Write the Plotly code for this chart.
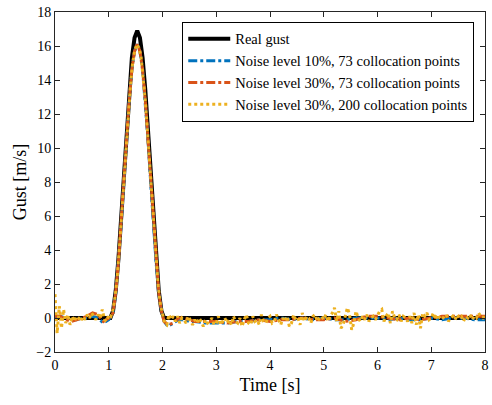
import plotly.graph_objects as go

# ---- data ----
real_time = [0.0, 1.03, 1.08, 1.13, 1.18, 1.23, 1.28, 1.33, 1.38, 1.43, 1.48, 1.53,
             1.58, 1.63, 1.68, 1.73, 1.78, 1.83, 1.88, 1.93, 1.98, 2.03, 8.0]
real_gust = [0.0, 0.0, 0.41, 1.61, 3.48, 5.84, 8.45, 11.06, 13.42, 15.29, 16.49, 16.9,
             16.49, 15.29, 13.42, 11.06, 8.45, 5.84, 3.48, 1.61, 0.41, 0.0, 0.0]

est_time = [0.0, 0.1, 0.2, 0.3, 0.4, 0.5, 0.6, 0.7, 0.8, 0.9, 1.0,
            1.08, 1.13, 1.18, 1.23, 1.28, 1.33, 1.38, 1.43, 1.48, 1.53,
            1.58, 1.63, 1.68, 1.73, 1.78, 1.83, 1.88, 1.93, 1.98,
            2.03, 2.1, 2.2, 2.3, 2.4, 2.5, 2.6, 2.8, 3.0, 3.2, 3.4, 3.6, 3.8,
            4.0, 4.2, 4.4, 4.6, 4.8, 5.0, 5.2, 5.4, 5.6, 5.8, 6.0, 6.2, 6.4,
            6.6, 6.8, 7.0, 7.2, 7.4, 7.6, 7.8, 8.0]

noise10_73 = [0.0, 0.1, 0.0, -0.1, -0.1, 0.0, 0.0, 0.1, 0.0, -0.3, -0.1,
              0.3, 1.5, 3.3, 5.5, 8.0, 10.5, 12.8, 14.6, 15.7, 16.1,
              15.7, 14.6, 12.8, 10.5, 8.0, 5.6, 3.3, 1.5, 0.4,
              -0.2, -0.5, -0.3, -0.1, -0.1, -0.2, -0.2, -0.3, -0.3, -0.3, -0.2, -0.2, -0.1,
              -0.1, 0.0, -0.1, 0.0, -0.1, 0.0, -0.1, -0.1, 0.0, 0.0, 0.0, -0.1, 0.0,
              -0.1, -0.1, 0.0, -0.1, 0.0, 0.0, -0.1, -0.1]

noise30_73 = [0.1, 0.1, -0.1, -0.2, -0.1, 0.0, 0.1, 0.3, 0.2, -0.2, 0.0,
              0.3, 1.5, 3.3, 5.5, 8.0, 10.5, 12.8, 14.6, 15.7, 16.1,
              15.7, 14.6, 12.8, 10.5, 8.0, 5.6, 3.3, 1.5, 0.4,
              -0.2, -0.4, -0.3, 0.0, 0.0, -0.1, -0.2, -0.2, -0.2, -0.3, -0.2, -0.2, -0.1,
              -0.2, -0.1, -0.1, 0.0, -0.1, -0.1, 0.0, -0.2, -0.1, 0.1, 0.1, 0.0, -0.1,
              0.0, -0.1, 0.0, 0.1, 0.1, 0.1, 0.1, 0.1]

# 200 collocation points, t = 0, 0.04, ..., 8.0
noise30_200_time = [round(0.04 * k, 2) for k in range(201)]
noise30_200 = [
    # 0.00 - 0.96
    1.4, -0.9, 0.7, -0.6, 0.5, -0.3, 0.2, -0.4, 0.1, -0.2, 0.1, 0.0, -0.2,
    0.1, -0.1, 0.2, 0.0, 0.3, 0.1, -0.1, 0.2, 0.0, 0.5, -0.1, -0.2,
    # 1.00 - 1.96
    0.2, 0.1, 0.5, 1.3, 2.5, 4.2, 6.1, 8.0, 10.1, 11.9, 13.5, 14.9, 15.7,
    16.1, 15.9, 15.4, 14.2, 12.8, 11.0, 9.1, 7.0, 5.1, 3.3, 1.9, 0.8,
    # 2.00 - 2.96
    0.2, -0.3, -0.4, 0.2, -0.1, 0.1, -0.2, 0.1, -0.3, 0.0, -0.1, -0.3, 0.1,
    -0.2, -0.4, -0.1, -0.3, 0.0, -0.2, -0.5, -0.1, -0.3, -0.2, 0.0, -0.4,
    # 3.00 - 3.96
    -0.3, 0.1, -0.4, -0.2, 0.0, -0.3, -0.1, -0.4, 0.1, -0.2, -0.3, 0.0, -0.5,
    -0.1, 0.2, -0.3, -0.4, 0.1, -0.2, -0.1, -0.4, 0.2, -0.2, -0.3, 0.0,
    # 4.00 - 4.96
    0.1, -0.3, -0.2, 0.2, -0.1, -0.4, 0.0, -0.2, 0.1, -0.5, -0.3, 0.2, -0.1,
    0.0, -0.4, 0.3, -0.2, 0.1, 0.0, -0.3, 0.1, 0.2, -0.2, 0.0, 0.1,
    # 5.00 - 5.96
    -0.1, 0.2, -0.2, 0.1, 0.3, 0.6, -0.2, 0.4, -0.6, -0.4, 0.1, 0.6, 0.2,
    -0.7, -0.3, 0.4, 0.0, -0.2, 0.1, -0.1, 0.2, -0.2, 0.0, 0.1, -0.1,
    # 6.00 - 6.96
    0.2, 0.4, 0.5, -0.2, 0.1, 0.3, -0.3, 0.4, 0.0, -0.1, 0.2, -0.2, 0.1,
    0.0, -0.2, 0.1, -0.3, 0.3, -0.4, 0.2, -0.6, 0.3, 0.1, 0.3, -0.1,
    # 7.00 - 7.96
    0.0, 0.3, -0.1, 0.2, 0.0, -0.1, 0.1, 0.2, -0.2, 0.0, 0.1, -0.1, 0.2,
    0.0, 0.1, -0.2, 0.1, 0.0, 0.2, -0.1, 0.1, 0.0, 0.3, 0.1, 0.0,
    # 8.00
    0.2,
]

x_ticks = [0, 1, 2, 3, 4, 5, 6, 7, 8]
y_ticks = [-2, 0, 2, 4, 6, 8, 10, 12, 14, 16, 18]

FONT = "Liberation Serif"
AX = "#262626"

fig = go.Figure()
fig.add_trace(go.Scatter(x=real_time, y=real_gust, mode="lines", name="Real gust",
                         line=dict(color="black", width=4)))
fig.add_trace(go.Scatter(x=est_time, y=noise10_73, mode="lines",
                         name="Noise level 10%, 73 collocation points",
                         line=dict(color="#0072BD", width=3, dash="dashdot")))
fig.add_trace(go.Scatter(x=est_time, y=noise30_73, mode="lines",
                         name="Noise level 30%, 73 collocation points",
                         line=dict(color="#D95319", width=3, dash="dashdot")))
fig.add_trace(go.Scatter(x=noise30_200_time, y=noise30_200, mode="lines",
                         name="Noise level 30%, 200 collocation points",
                         line=dict(color="#EDB120", width=3, dash="dot")))

axis_common = dict(showline=True, linecolor=AX, linewidth=1, mirror="ticks",
                   ticks="inside", ticklen=5, tickcolor=AX, showgrid=False,
                   zeroline=False, ticklabeloverflow="allow",
                   tickfont=dict(family=FONT, size=14, color="black"))

fig.update_layout(
    width=492, height=405,
    margin=dict(l=55, r=3, t=12, b=53),
    paper_bgcolor="white", plot_bgcolor="white",
    font=dict(family=FONT, color="black"),
    xaxis=dict(range=[0, 8], tickvals=x_ticks,
               title=dict(text="Time [s]", font=dict(family=FONT, size=18), standoff=6),
               **axis_common),
    yaxis=dict(range=[-2, 18], tickvals=y_ticks,
               title=dict(text="Gust [m/s]", font=dict(family=FONT, size=18), standoff=4),
               **axis_common),
    legend=dict(x=0.975, y=0.971, xanchor="right", yanchor="top",
                bgcolor="white", bordercolor="black", borderwidth=1,
                font=dict(family=FONT, size=14.5), tracegroupgap=0,
                itemwidth=42),
    showlegend=True,
)

fig.write_html("out.html")
